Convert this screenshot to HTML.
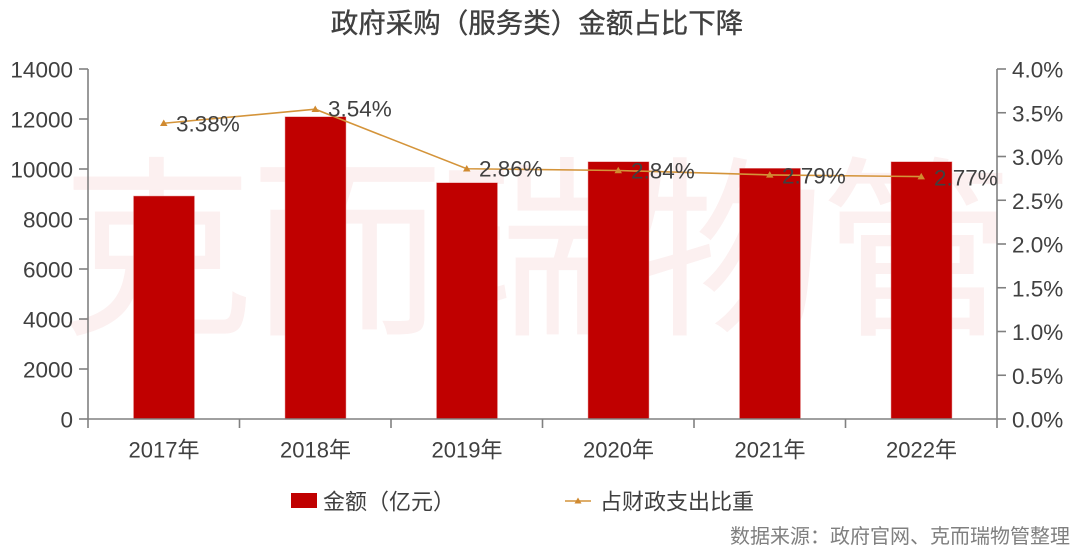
<!DOCTYPE html>
<html>
<head>
<meta charset="utf-8">
<style>
html,body{margin:0;padding:0;background:#fff;}
svg{display:block;}
text{font-family:"Liberation Sans","Noto Sans CJK SC",sans-serif;}
</style>
</head>
<body>
<svg width="1080" height="553" viewBox="0 0 1080 553" xmlns="http://www.w3.org/2000/svg">
  <rect width="1080" height="553" fill="#ffffff"/>
  <!-- watermark -->
  <text x="60" y="320" font-size="194" font-weight="normal" fill="#fcf0f0" style="font-family:'Noto Sans CJK SC',sans-serif;" letter-spacing="-4">克而瑞物管</text>

  <!-- title -->
  <text x="537" y="23" font-size="27.5" fill="#404040" text-anchor="middle" dominant-baseline="central" stroke="#404040" stroke-width="0.35">政府采购（服务类）金额占比下降</text>

  <!-- bars -->
  <g fill="#c00000" stroke="#e8a0a0" stroke-width="0.5">
    <rect x="133.5" y="196" width="61" height="223"/>
    <rect x="285" y="116.7" width="61" height="302.3"/>
    <rect x="436.5" y="182.7" width="61" height="236.3"/>
    <rect x="588" y="161.7" width="61" height="257.3"/>
    <rect x="739.5" y="168.3" width="61" height="250.7"/>
    <rect x="891" y="161.7" width="61" height="257.3"/>
  </g>

  <!-- axes -->
  <g stroke="#808080" stroke-width="1.6" fill="none">
    <line x1="88" y1="69" x2="88" y2="428"/>
    <line x1="997" y1="69" x2="997" y2="428"/>
    <line x1="88" y1="419" x2="997" y2="419"/>
    <line x1="79" y1="69" x2="88" y2="69"/>
    <line x1="79" y1="119" x2="88" y2="119"/>
    <line x1="79" y1="169" x2="88" y2="169"/>
    <line x1="79" y1="219" x2="88" y2="219"/>
    <line x1="79" y1="269" x2="88" y2="269"/>
    <line x1="79" y1="319" x2="88" y2="319"/>
    <line x1="79" y1="369" x2="88" y2="369"/>
    <line x1="79" y1="419" x2="88" y2="419"/>
    <line x1="997" y1="69" x2="1006" y2="69"/>
    <line x1="997" y1="112.75" x2="1006" y2="112.75"/>
    <line x1="997" y1="156.5" x2="1006" y2="156.5"/>
    <line x1="997" y1="200.25" x2="1006" y2="200.25"/>
    <line x1="997" y1="244" x2="1006" y2="244"/>
    <line x1="997" y1="287.75" x2="1006" y2="287.75"/>
    <line x1="997" y1="331.5" x2="1006" y2="331.5"/>
    <line x1="997" y1="375.25" x2="1006" y2="375.25"/>
    <line x1="997" y1="419" x2="1006" y2="419"/>
    <line x1="239.5" y1="419" x2="239.5" y2="428"/>
    <line x1="391" y1="419" x2="391" y2="428"/>
    <line x1="542.5" y1="419" x2="542.5" y2="428"/>
    <line x1="694" y1="419" x2="694" y2="428"/>
    <line x1="845.5" y1="419" x2="845.5" y2="428"/>
  </g>

  <!-- left labels -->
  <g font-size="22.5" fill="#404040" text-anchor="end" dominant-baseline="central">
    <text x="73" y="70">14000</text>
    <text x="73" y="120">12000</text>
    <text x="73" y="170">10000</text>
    <text x="73" y="220">8000</text>
    <text x="73" y="270">6000</text>
    <text x="73" y="320">4000</text>
    <text x="73" y="370">2000</text>
    <text x="73" y="420">0</text>
  </g>
  <!-- right labels -->
  <g font-size="22.5" fill="#404040" text-anchor="start" dominant-baseline="central">
    <text x="1012" y="70">4.0%</text>
    <text x="1012" y="113.75">3.5%</text>
    <text x="1012" y="157.5">3.0%</text>
    <text x="1012" y="201.25">2.5%</text>
    <text x="1012" y="245">2.0%</text>
    <text x="1012" y="288.75">1.5%</text>
    <text x="1012" y="332.5">1.0%</text>
    <text x="1012" y="376.25">0.5%</text>
    <text x="1012" y="420">0.0%</text>
  </g>
  <!-- x labels -->
  <g font-size="22" fill="#404040" text-anchor="middle" dominant-baseline="central">
    <text x="164" y="450">2017年</text>
    <text x="315.5" y="450">2018年</text>
    <text x="467" y="450">2019年</text>
    <text x="618.5" y="450">2020年</text>
    <text x="770" y="450">2021年</text>
    <text x="921.5" y="450">2022年</text>
  </g>

  <!-- line series -->
  <polyline points="163.75,123.25 315.25,109.25 466.75,168.75 618.25,170.5 769.75,174.9 921.25,176.6" fill="none" stroke="#d4943a" stroke-width="1.6"/>
  <g fill="#d08a30">
    <polygon points="163.75,119.5 167.5,126 160,126"/>
    <polygon points="315.25,105.5 319,112 311.5,112"/>
    <polygon points="466.75,165 470.5,171.5 463,171.5"/>
    <polygon points="618.25,166.75 622,173.25 614.5,173.25"/>
    <polygon points="769.75,171.15 773.5,177.65 766,177.65"/>
    <polygon points="921.25,172.85 925,179.35 917.5,179.35"/>
  </g>
  <!-- data labels -->
  <g font-size="22.5" fill="#404040" dominant-baseline="central">
    <text x="176" y="124">3.38%</text>
    <text x="328" y="109">3.54%</text>
    <text x="479" y="169">2.86%</text>
    <text x="631" y="171">2.84%</text>
    <text x="782" y="176">2.79%</text>
    <text x="934" y="178">2.77%</text>
  </g>

  <!-- legend -->
  <rect x="291" y="493" width="26" height="15" fill="#c00000"/>
  <text x="323" y="502" font-size="22" fill="#404040" dominant-baseline="central">金额（亿元）</text>
  <line x1="565" y1="501" x2="591" y2="501" stroke="#d4943a" stroke-width="1.6"/>
  <polygon points="578,497.5 581.5,503.5 574.5,503.5" fill="#d08a30"/>
  <text x="600" y="502" font-size="22" fill="#404040" dominant-baseline="central">占财政支出比重</text>

  <!-- source -->
  <text x="1070" y="537" font-size="20" fill="#7f7f7f" text-anchor="end" dominant-baseline="central">数据来源：政府官网、克而瑞物管整理</text>
</svg>
</body>
</html>
